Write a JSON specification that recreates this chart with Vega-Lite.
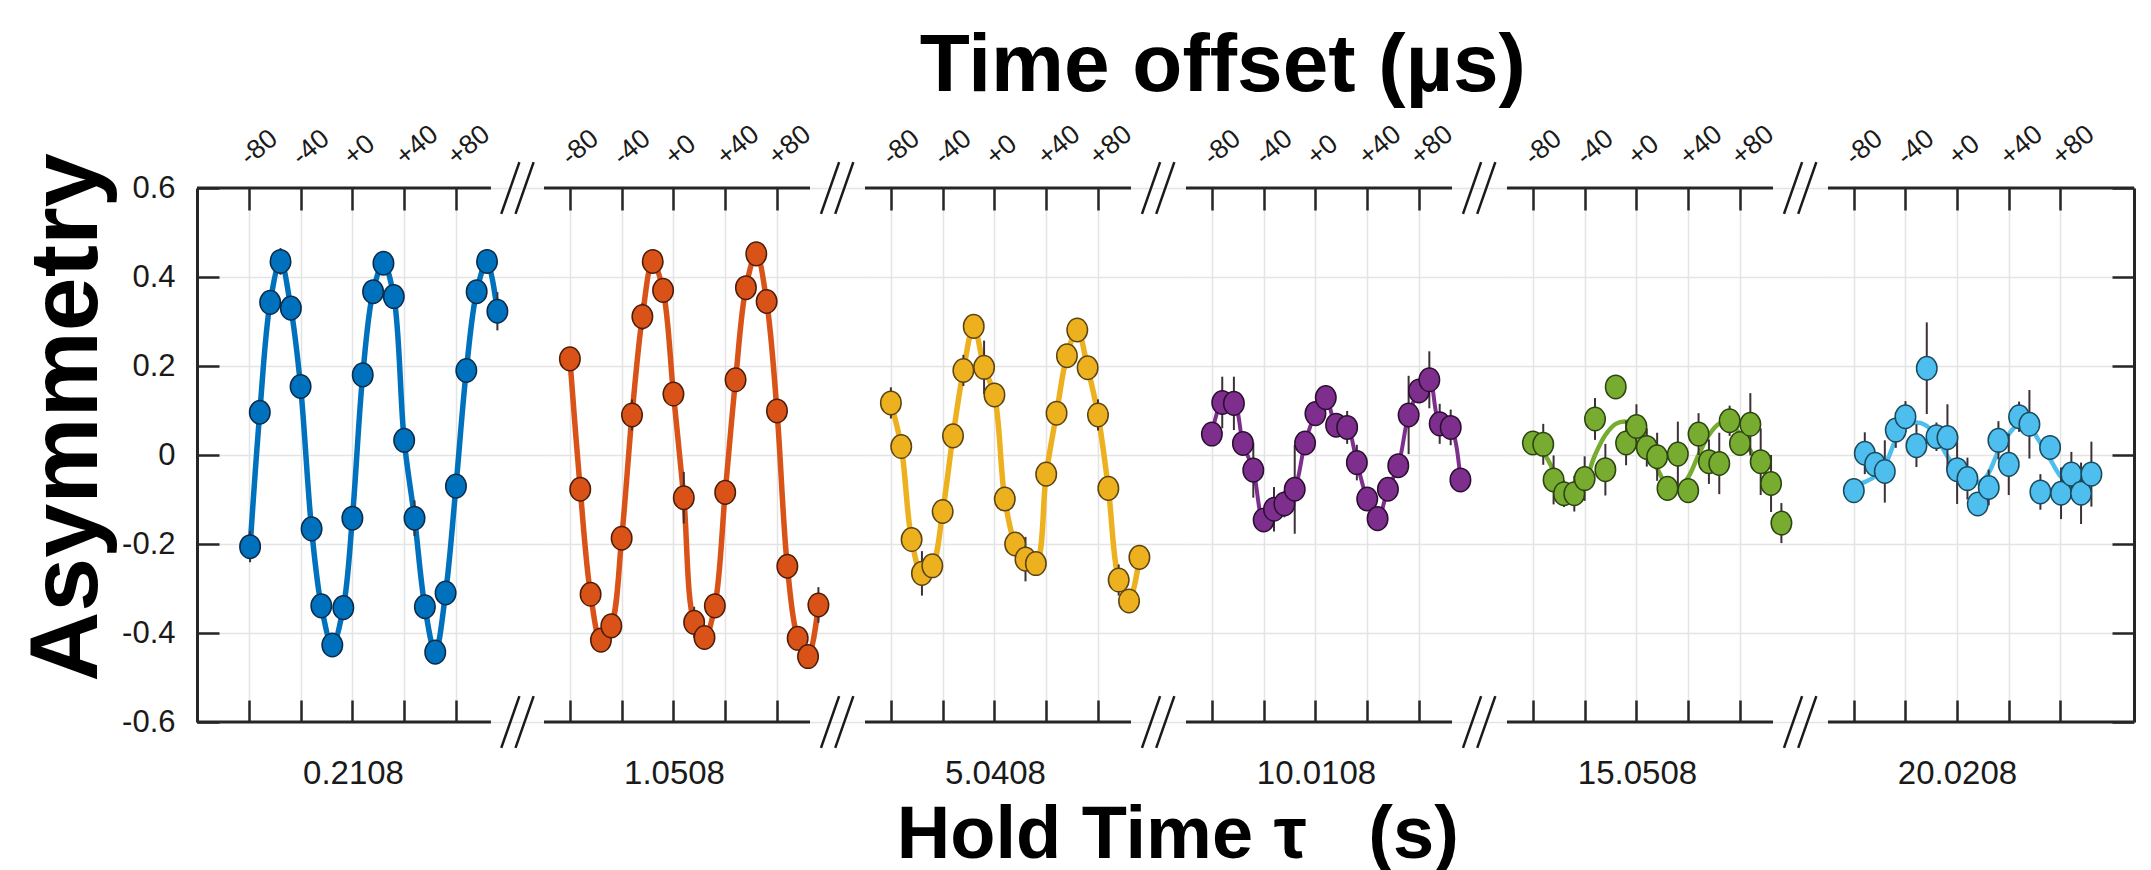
{
"$schema": "https://vega.github.io/schema/vega-lite/v6.json",
"background": "white",
"padding": {"left": 17, "top": 24, "right": 10, "bottom": 5},
"title": {"text": "Time offset (µs)", "font": "Liberation Sans", "fontSize": 82, "fontWeight": "bold", "color": "#000000", "anchor": "middle", "offset": 12, "dx": 146},
"config": {
  "view": {"stroke": null},
  "font": "Liberation Sans",
  "axis": {"gridColor": "#e4e4e4", "gridWidth": 1.5, "tickColor": "#262626", "tickWidth": 2.5, "domainColor": "#262626", "domainWidth": 3, "labelColor": "#1a1a1a", "labelFont": "Liberation Sans", "titleFont": "Liberation Sans", "labelFlush": false, "labelOverlap": false},
  "axisTop": {"labelAngle": -40, "labelAlign": "left", "labelBaseline": "alphabetic", "labelFontSize": 27, "labelPadding": 44, "tickSize": -22, "domain": false, "grid": true},
  "axisBottom": {"labels": false, "tickSize": -22, "domain": false, "grid": false, "titleFontSize": 33, "titleFontWeight": "normal", "titleColor": "#1a1a1a", "titlePadding": 34, "titleAlign": "center"},
  "axisLeft": {"tickSize": -22, "labelFontSize": 31, "labelPadding": 44, "grid": true},
  "axisRight": {"tickSize": -22, "labels": false, "grid": false}
},
"datasets": {
  "pts": [
    {"hold": "0.2108", "t": -79, "a": -0.206, "err": 0.035},
    {"hold": "0.2108", "t": -71.5, "a": 0.096, "err": 0.02},
    {"hold": "0.2108", "t": -63.5, "a": 0.343, "err": 0.02},
    {"hold": "0.2108", "t": -55.5, "a": 0.435, "err": 0.03},
    {"hold": "0.2108", "t": -47.5, "a": 0.330, "err": 0.02},
    {"hold": "0.2108", "t": -40, "a": 0.154, "err": 0.02},
    {"hold": "0.2108", "t": -31.5, "a": -0.166, "err": 0.02},
    {"hold": "0.2108", "t": -24, "a": -0.339, "err": 0.02},
    {"hold": "0.2108", "t": -15.5, "a": -0.427, "err": 0.025},
    {"hold": "0.2108", "t": -7, "a": -0.343, "err": 0.02},
    {"hold": "0.2108", "t": 0, "a": -0.142, "err": 0.02},
    {"hold": "0.2108", "t": 8, "a": 0.180, "err": 0.02},
    {"hold": "0.2108", "t": 16, "a": 0.367, "err": 0.02},
    {"hold": "0.2108", "t": 24, "a": 0.431, "err": 0.02},
    {"hold": "0.2108", "t": 32, "a": 0.356, "err": 0.02},
    {"hold": "0.2108", "t": 40, "a": 0.033, "err": 0.02},
    {"hold": "0.2108", "t": 48, "a": -0.142, "err": 0.04},
    {"hold": "0.2108", "t": 56, "a": -0.341, "err": 0.02},
    {"hold": "0.2108", "t": 64, "a": -0.443, "err": 0.025},
    {"hold": "0.2108", "t": 72, "a": -0.310, "err": 0.02},
    {"hold": "0.2108", "t": 80, "a": -0.070, "err": 0.02},
    {"hold": "0.2108", "t": 88, "a": 0.190, "err": 0.02},
    {"hold": "0.2108", "t": 96, "a": 0.367, "err": 0.02},
    {"hold": "0.2108", "t": 104, "a": 0.435, "err": 0.02},
    {"hold": "0.2108", "t": 112, "a": 0.323, "err": 0.043},

    {"hold": "1.0508", "t": -80, "a": 0.216, "err": 0.02},
    {"hold": "1.0508", "t": -72, "a": -0.077, "err": 0.02},
    {"hold": "1.0508", "t": -64, "a": -0.313, "err": 0.02},
    {"hold": "1.0508", "t": -56, "a": -0.416, "err": 0.02},
    {"hold": "1.0508", "t": -48, "a": -0.384, "err": 0.02},
    {"hold": "1.0508", "t": -40, "a": -0.187, "err": 0.02},
    {"hold": "1.0508", "t": -32, "a": 0.090, "err": 0.035},
    {"hold": "1.0508", "t": -24, "a": 0.311, "err": 0.03},
    {"hold": "1.0508", "t": -16, "a": 0.435, "err": 0.02},
    {"hold": "1.0508", "t": -8, "a": 0.370, "err": 0.02},
    {"hold": "1.0508", "t": 0, "a": 0.137, "err": 0.02},
    {"hold": "1.0508", "t": 8, "a": -0.096, "err": 0.058},
    {"hold": "1.0508", "t": 16, "a": -0.376, "err": 0.035},
    {"hold": "1.0508", "t": 24, "a": -0.410, "err": 0.02},
    {"hold": "1.0508", "t": 32, "a": -0.339, "err": 0.02},
    {"hold": "1.0508", "t": 40, "a": -0.084, "err": 0.02},
    {"hold": "1.0508", "t": 48, "a": 0.169, "err": 0.02},
    {"hold": "1.0508", "t": 56, "a": 0.376, "err": 0.02},
    {"hold": "1.0508", "t": 64, "a": 0.452, "err": 0.02},
    {"hold": "1.0508", "t": 72, "a": 0.345, "err": 0.02},
    {"hold": "1.0508", "t": 80, "a": 0.099, "err": 0.02},
    {"hold": "1.0508", "t": 88, "a": -0.250, "err": 0.02},
    {"hold": "1.0508", "t": 96, "a": -0.412, "err": 0.02},
    {"hold": "1.0508", "t": 104, "a": -0.453, "err": 0.02},
    {"hold": "1.0508", "t": 112, "a": -0.337, "err": 0.04},

    {"hold": "5.0408", "t": -80, "a": 0.117, "err": 0.035},
    {"hold": "5.0408", "t": -72, "a": 0.019, "err": 0.02},
    {"hold": "5.0408", "t": -64, "a": -0.190, "err": 0.02},
    {"hold": "5.0408", "t": -56, "a": -0.266, "err": 0.05},
    {"hold": "5.0408", "t": -48, "a": -0.249, "err": 0.02},
    {"hold": "5.0408", "t": -40, "a": -0.127, "err": 0.02},
    {"hold": "5.0408", "t": -32, "a": 0.043, "err": 0.02},
    {"hold": "5.0408", "t": -24, "a": 0.190, "err": 0.035},
    {"hold": "5.0408", "t": -16, "a": 0.289, "err": 0.02},
    {"hold": "5.0408", "t": -8, "a": 0.197, "err": 0.06},
    {"hold": "5.0408", "t": 0, "a": 0.135, "err": 0.02},
    {"hold": "5.0408", "t": 8, "a": -0.099, "err": 0.02},
    {"hold": "5.0408", "t": 16, "a": -0.200, "err": 0.02},
    {"hold": "5.0408", "t": 24, "a": -0.234, "err": 0.05},
    {"hold": "5.0408", "t": 32, "a": -0.244, "err": 0.02},
    {"hold": "5.0408", "t": 40, "a": -0.043, "err": 0.02},
    {"hold": "5.0408", "t": 48, "a": 0.094, "err": 0.02},
    {"hold": "5.0408", "t": 56, "a": 0.223, "err": 0.02},
    {"hold": "5.0408", "t": 64, "a": 0.281, "err": 0.02},
    {"hold": "5.0408", "t": 72, "a": 0.196, "err": 0.02},
    {"hold": "5.0408", "t": 80, "a": 0.090, "err": 0.035},
    {"hold": "5.0408", "t": 88, "a": -0.075, "err": 0.02},
    {"hold": "5.0408", "t": 96, "a": -0.281, "err": 0.035},
    {"hold": "5.0408", "t": 104, "a": -0.328, "err": 0.02},
    {"hold": "5.0408", "t": 112, "a": -0.230, "err": 0.02},

    {"hold": "10.0108", "t": -80, "a": 0.047, "err": 0.02},
    {"hold": "10.0108", "t": -72, "a": 0.118, "err": 0.058},
    {"hold": "10.0108", "t": -63, "a": 0.116, "err": 0.06},
    {"hold": "10.0108", "t": -56, "a": 0.026, "err": 0.02},
    {"hold": "10.0108", "t": -48, "a": -0.034, "err": 0.062},
    {"hold": "10.0108", "t": -40, "a": -0.146, "err": 0.02},
    {"hold": "10.0108", "t": -32, "a": -0.122, "err": 0.05},
    {"hold": "10.0108", "t": -24, "a": -0.110, "err": 0.03},
    {"hold": "10.0108", "t": -16, "a": -0.077, "err": 0.1},
    {"hold": "10.0108", "t": -8, "a": 0.027, "err": 0.02},
    {"hold": "10.0108", "t": 0, "a": 0.093, "err": 0.02},
    {"hold": "10.0108", "t": 8, "a": 0.129, "err": 0.02},
    {"hold": "10.0108", "t": 16, "a": 0.067, "err": 0.02},
    {"hold": "10.0108", "t": 24.5, "a": 0.062, "err": 0.037},
    {"hold": "10.0108", "t": 32, "a": -0.017, "err": 0.04},
    {"hold": "10.0108", "t": 40, "a": -0.099, "err": 0.02},
    {"hold": "10.0108", "t": 48, "a": -0.143, "err": 0.02},
    {"hold": "10.0108", "t": 56, "a": -0.077, "err": 0.02},
    {"hold": "10.0108", "t": 64, "a": -0.024, "err": 0.02},
    {"hold": "10.0108", "t": 72, "a": 0.090, "err": 0.088},
    {"hold": "10.0108", "t": 80, "a": 0.144, "err": 0.02},
    {"hold": "10.0108", "t": 88, "a": 0.169, "err": 0.064},
    {"hold": "10.0108", "t": 96, "a": 0.070, "err": 0.045},
    {"hold": "10.0108", "t": 104.5, "a": 0.062, "err": 0.04},
    {"hold": "10.0108", "t": 112, "a": -0.056, "err": 0.02},

    {"hold": "15.0508", "t": -80, "a": 0.027, "err": 0.02},
    {"hold": "15.0508", "t": -72, "a": 0.024, "err": 0.046},
    {"hold": "15.0508", "t": -64, "a": -0.056, "err": 0.055},
    {"hold": "15.0508", "t": -56, "a": -0.087, "err": 0.03},
    {"hold": "15.0508", "t": -48, "a": -0.087, "err": 0.04},
    {"hold": "15.0508", "t": -40, "a": -0.053, "err": 0.05},
    {"hold": "15.0508", "t": -32, "a": 0.081, "err": 0.047},
    {"hold": "15.0508", "t": -24, "a": -0.033, "err": 0.058},
    {"hold": "15.0508", "t": -16, "a": 0.153, "err": 0.02},
    {"hold": "15.0508", "t": -8, "a": 0.027, "err": 0.05},
    {"hold": "15.0508", "t": 0, "a": 0.064, "err": 0.05},
    {"hold": "15.0508", "t": 8, "a": 0.017, "err": 0.043},
    {"hold": "15.0508", "t": 16, "a": -0.004, "err": 0.054},
    {"hold": "15.0508", "t": 24, "a": -0.075, "err": 0.02},
    {"hold": "15.0508", "t": 32, "a": 0.002, "err": 0.073},
    {"hold": "15.0508", "t": 40, "a": -0.080, "err": 0.02},
    {"hold": "15.0508", "t": 48, "a": 0.047, "err": 0.047},
    {"hold": "15.0508", "t": 56, "a": -0.015, "err": 0.05},
    {"hold": "15.0508", "t": 64, "a": -0.019, "err": 0.069},
    {"hold": "15.0508", "t": 72, "a": 0.077, "err": 0.034},
    {"hold": "15.0508", "t": 80, "a": 0.026, "err": 0.02},
    {"hold": "15.0508", "t": 88, "a": 0.069, "err": 0.07},
    {"hold": "15.0508", "t": 96, "a": -0.015, "err": 0.075},
    {"hold": "15.0508", "t": 104, "a": -0.064, "err": 0.064},
    {"hold": "15.0508", "t": 112, "a": -0.153, "err": 0.045},

    {"hold": "20.0208", "t": -80, "a": -0.080, "err": 0.02},
    {"hold": "20.0208", "t": -71.5, "a": 0.004, "err": 0.047},
    {"hold": "20.0208", "t": -63.5, "a": -0.021, "err": 0.02},
    {"hold": "20.0208", "t": -56, "a": -0.037, "err": 0.07},
    {"hold": "20.0208", "t": -47.5, "a": 0.056, "err": 0.04},
    {"hold": "20.0208", "t": -40, "a": 0.086, "err": 0.035},
    {"hold": "20.0208", "t": -31.5, "a": 0.021, "err": 0.048},
    {"hold": "20.0208", "t": -23.5, "a": 0.195, "err": 0.103},
    {"hold": "20.0208", "t": -16, "a": 0.041, "err": 0.032},
    {"hold": "20.0208", "t": -7.5, "a": 0.039, "err": 0.075},
    {"hold": "20.0208", "t": 0, "a": -0.033, "err": 0.077},
    {"hold": "20.0208", "t": 8, "a": -0.053, "err": 0.047},
    {"hold": "20.0208", "t": 16, "a": -0.110, "err": 0.02},
    {"hold": "20.0208", "t": 24.5, "a": -0.073, "err": 0.04},
    {"hold": "20.0208", "t": 32, "a": 0.033, "err": 0.043},
    {"hold": "20.0208", "t": 40, "a": -0.021, "err": 0.069},
    {"hold": "20.0208", "t": 48, "a": 0.086, "err": 0.034},
    {"hold": "20.0208", "t": 56, "a": 0.069, "err": 0.077},
    {"hold": "20.0208", "t": 64.5, "a": -0.083, "err": 0.04},
    {"hold": "20.0208", "t": 72, "a": 0.017, "err": 0.02},
    {"hold": "20.0208", "t": 80.5, "a": -0.086, "err": 0.058},
    {"hold": "20.0208", "t": 88.5, "a": -0.043, "err": 0.05},
    {"hold": "20.0208", "t": 96, "a": -0.086, "err": 0.069},
    {"hold": "20.0208", "t": 104, "a": -0.043, "err": 0.073}
  ],
  "fit": [
    {"hold": "15.0508", "t": -80, "a": 0.02},
    {"hold": "15.0508", "t": -72, "a": 0.005},
    {"hold": "15.0508", "t": -64, "a": -0.035},
    {"hold": "15.0508", "t": -56, "a": -0.075},
    {"hold": "15.0508", "t": -48, "a": -0.082},
    {"hold": "15.0508", "t": -40, "a": -0.06},
    {"hold": "15.0508", "t": -32, "a": 0.0},
    {"hold": "15.0508", "t": -24, "a": 0.045},
    {"hold": "15.0508", "t": -16, "a": 0.07},
    {"hold": "15.0508", "t": -8, "a": 0.075},
    {"hold": "15.0508", "t": 0, "a": 0.068},
    {"hold": "15.0508", "t": 8, "a": 0.035},
    {"hold": "15.0508", "t": 16, "a": -0.03},
    {"hold": "15.0508", "t": 24, "a": -0.068},
    {"hold": "15.0508", "t": 32, "a": -0.075},
    {"hold": "15.0508", "t": 40, "a": -0.05},
    {"hold": "15.0508", "t": 48, "a": 0.0},
    {"hold": "15.0508", "t": 56, "a": 0.045},
    {"hold": "15.0508", "t": 64, "a": 0.07},
    {"hold": "15.0508", "t": 72, "a": 0.073},
    {"hold": "15.0508", "t": 80, "a": 0.047},
    {"hold": "15.0508", "t": 88, "a": 0.01},
    {"hold": "15.0508", "t": 96, "a": -0.028},
    {"hold": "15.0508", "t": 104, "a": -0.056},
    {"hold": "15.0508", "t": 110, "a": -0.068},

    {"hold": "20.0208", "t": -80, "a": -0.069},
    {"hold": "20.0208", "t": -71, "a": -0.06},
    {"hold": "20.0208", "t": -63, "a": -0.047},
    {"hold": "20.0208", "t": -55, "a": -0.017},
    {"hold": "20.0208", "t": -47.5, "a": 0.034},
    {"hold": "20.0208", "t": -40, "a": 0.062},
    {"hold": "20.0208", "t": -32, "a": 0.073},
    {"hold": "20.0208", "t": -24.5, "a": 0.067},
    {"hold": "20.0208", "t": -16.5, "a": 0.043},
    {"hold": "20.0208", "t": -9, "a": 0.004},
    {"hold": "20.0208", "t": 0, "a": -0.034},
    {"hold": "20.0208", "t": 7.5, "a": -0.056},
    {"hold": "20.0208", "t": 15.5, "a": -0.062},
    {"hold": "20.0208", "t": 23, "a": -0.047},
    {"hold": "20.0208", "t": 32, "a": 0.009},
    {"hold": "20.0208", "t": 40, "a": 0.047},
    {"hold": "20.0208", "t": 47.5, "a": 0.069},
    {"hold": "20.0208", "t": 55, "a": 0.067},
    {"hold": "20.0208", "t": 63, "a": 0.034},
    {"hold": "20.0208", "t": 72, "a": -0.009},
    {"hold": "20.0208", "t": 80, "a": -0.047},
    {"hold": "20.0208", "t": 88, "a": -0.063},
    {"hold": "20.0208", "t": 96, "a": -0.062}
  ]
},
"vconcat": [{
  "title": {"text": "Hold Time\u00a0τ\u00a0\u00a0 (s)", "orient": "bottom", "anchor": "middle", "font": "Liberation Sans", "fontSize": 74, "fontWeight": "bold", "color": "#000000", "offset": 10, "dx": 101},
  "bounds": "flush",
  "spacing": 0,
  "hconcat": [
    {
      "width": 347, "height": 534,
      "resolve": {"axis": {"x": "independent", "y": "independent"}},
      "layer": [
        {"data": {"name": "pts"}, "transform": [{"filter": {"field": "hold", "equal": "0.2108"}}],
         "mark": {"type": "line", "color": "#0072BD", "strokeWidth": 5.5, "interpolate": "catmull-rom"},
         "encoding": {
           "x": {"field": "t", "type": "quantitative", "scale": {"domain": [-120, 148], "nice": false, "zero": false},
                 "axis": {"orient": "top", "values": [-80, -40, 0, 40, 80], "labelExpr": "datum.value > 0 ? '+' + datum.value : (datum.value == 0 ? '+0' : '-' + abs(datum.value))", "title": null}},
           "y": {"field": "a", "type": "quantitative", "scale": {"domain": [-0.6, 0.6], "nice": false, "zero": false},
                 "axis": {"orient": "left", "values": [-0.6, -0.4, -0.2, 0, 0.2, 0.4, 0.6], "labelExpr": "datum.value == 0 ? '0' : (datum.value < 0 ? '-' + format(abs(datum.value), '.1f') : format(datum.value, '.1f'))", "domain": true, "title": "Asymmetry", "titleFontSize": 97, "titleFontWeight": "bold", "titleColor": "#000000", "titleAngle": -90, "titleX": -101, "titleY": 229, "titleBaseline": "alphabetic", "titleAlign": "center"}}
         }},
        {"data": {"name": "pts"}, "transform": [{"filter": {"field": "hold", "equal": "0.2108"}}],
         "mark": {"type": "errorbar", "color": "#3d3038", "thickness": 2},
         "encoding": {"x": {"field": "t", "type": "quantitative", "axis": null}, "y": {"field": "a", "type": "quantitative", "axis": null}, "yError": {"field": "err"}}},
        {"data": {"name": "pts"}, "transform": [{"filter": {"field": "hold", "equal": "0.2108"}}],
         "mark": {"type": "point", "shape": "M-1,0A1,1.15,0,1,1,1,0A1,1.15,0,1,1,-1,0Z", "filled": true, "color": "#0072BD", "stroke": "#0b2b4a", "strokeWidth": 1.5, "size": 420, "opacity": 1},
         "encoding": {"x": {"field": "t", "type": "quantitative", "axis": null}, "y": {"field": "a", "type": "quantitative", "axis": null}}},
        {"data": {"values": [{}]}, "mark": {"type": "rule", "color": "#262626", "strokeWidth": 3},
         "encoding": {"x": {"datum": -120, "type": "quantitative", "axis": null}, "x2": {"datum": 107}, "y": {"datum": 0.6, "type": "quantitative", "axis": null}}},
        {"data": {"values": [{}]}, "mark": {"type": "rule", "color": "#262626", "strokeWidth": 3},
         "encoding": {"x": {"datum": -120, "type": "quantitative", "axis": {"orient": "bottom", "values": [-80, -40, 0, 40, 80], "title": "0.2108", "titleX": 156}}, "x2": {"datum": 107}, "y": {"datum": -0.6, "type": "quantitative", "axis": null}}},
        {"data": {"values": [{}]}, "mark": {"type": "rule", "color": "#1a1a1a", "strokeWidth": 2.5},
         "encoding": {"x": {"datum": 115, "type": "quantitative", "axis": null}, "x2": {"datum": 129}, "y": {"datum": 0.542, "type": "quantitative", "axis": null}, "y2": {"datum": 0.658}}},
        {"data": {"values": [{}]}, "mark": {"type": "rule", "color": "#1a1a1a", "strokeWidth": 2.5},
         "encoding": {"x": {"datum": 126, "type": "quantitative", "axis": null}, "x2": {"datum": 140}, "y": {"datum": 0.542, "type": "quantitative", "axis": null}, "y2": {"datum": 0.658}}},
        {"data": {"values": [{}]}, "mark": {"type": "rule", "color": "#1a1a1a", "strokeWidth": 2.5},
         "encoding": {"x": {"datum": 115, "type": "quantitative", "axis": null}, "x2": {"datum": 129}, "y": {"datum": -0.658, "type": "quantitative", "axis": null}, "y2": {"datum": -0.542}}},
        {"data": {"values": [{}]}, "mark": {"type": "rule", "color": "#1a1a1a", "strokeWidth": 2.5},
         "encoding": {"x": {"datum": 126, "type": "quantitative", "axis": null}, "x2": {"datum": 140}, "y": {"datum": -0.658, "type": "quantitative", "axis": null}, "y2": {"datum": -0.542}}}
      ]
    },
    {
      "width": 321, "height": 534,
      "resolve": {"axis": {"x": "independent", "y": "independent"}},
      "layer": [
        {"data": {"name": "pts"}, "transform": [{"filter": {"field": "hold", "equal": "1.0508"}}],
         "mark": {"type": "line", "color": "#D95319", "strokeWidth": 5.5, "interpolate": "catmull-rom"},
         "encoding": {
           "x": {"field": "t", "type": "quantitative", "scale": {"domain": [-100, 148], "nice": false, "zero": false},
                 "axis": {"orient": "top", "values": [-80, -40, 0, 40, 80], "labelExpr": "datum.value > 0 ? '+' + datum.value : (datum.value == 0 ? '+0' : '-' + abs(datum.value))", "title": null}},
           "y": {"field": "a", "type": "quantitative", "scale": {"domain": [-0.6, 0.6], "nice": false, "zero": false},
                 "axis": {"orient": "left", "values": [-0.6, -0.4, -0.2, 0, 0.2, 0.4, 0.6], "labels": false, "ticks": false, "domain": false, "title": null}}
         }},
        {"data": {"name": "pts"}, "transform": [{"filter": {"field": "hold", "equal": "1.0508"}}],
         "mark": {"type": "errorbar", "color": "#3d3038", "thickness": 2},
         "encoding": {"x": {"field": "t", "type": "quantitative", "axis": null}, "y": {"field": "a", "type": "quantitative", "axis": null}, "yError": {"field": "err"}}},
        {"data": {"name": "pts"}, "transform": [{"filter": {"field": "hold", "equal": "1.0508"}}],
         "mark": {"type": "point", "shape": "M-1,0A1,1.15,0,1,1,1,0A1,1.15,0,1,1,-1,0Z", "filled": true, "color": "#D95319", "stroke": "#4d1d08", "strokeWidth": 1.5, "size": 420, "opacity": 1},
         "encoding": {"x": {"field": "t", "type": "quantitative", "axis": null}, "y": {"field": "a", "type": "quantitative", "axis": null}}},
        {"data": {"values": [{}]}, "mark": {"type": "rule", "color": "#262626", "strokeWidth": 3},
         "encoding": {"x": {"datum": -100, "type": "quantitative", "axis": null}, "x2": {"datum": 105.5}, "y": {"datum": 0.6, "type": "quantitative", "axis": null}}},
        {"data": {"values": [{}]}, "mark": {"type": "rule", "color": "#262626", "strokeWidth": 3},
         "encoding": {"x": {"datum": -100, "type": "quantitative", "axis": {"orient": "bottom", "values": [-80, -40, 0, 40, 80], "title": "1.0508", "titleX": 130}}, "x2": {"datum": 105.5}, "y": {"datum": -0.6, "type": "quantitative", "axis": null}}},
        {"data": {"values": [{}]}, "mark": {"type": "rule", "color": "#1a1a1a", "strokeWidth": 2.5},
         "encoding": {"x": {"datum": 114, "type": "quantitative", "axis": null}, "x2": {"datum": 128}, "y": {"datum": 0.542, "type": "quantitative", "axis": null}, "y2": {"datum": 0.658}}},
        {"data": {"values": [{}]}, "mark": {"type": "rule", "color": "#1a1a1a", "strokeWidth": 2.5},
         "encoding": {"x": {"datum": 125, "type": "quantitative", "axis": null}, "x2": {"datum": 139}, "y": {"datum": 0.542, "type": "quantitative", "axis": null}, "y2": {"datum": 0.658}}},
        {"data": {"values": [{}]}, "mark": {"type": "rule", "color": "#1a1a1a", "strokeWidth": 2.5},
         "encoding": {"x": {"datum": 114, "type": "quantitative", "axis": null}, "x2": {"datum": 128}, "y": {"datum": -0.658, "type": "quantitative", "axis": null}, "y2": {"datum": -0.542}}},
        {"data": {"values": [{}]}, "mark": {"type": "rule", "color": "#1a1a1a", "strokeWidth": 2.5},
         "encoding": {"x": {"datum": 125, "type": "quantitative", "axis": null}, "x2": {"datum": 139}, "y": {"datum": -0.658, "type": "quantitative", "axis": null}, "y2": {"datum": -0.542}}}
      ]
    },
    {
      "width": 321, "height": 534,
      "resolve": {"axis": {"x": "independent", "y": "independent"}},
      "layer": [
        {"data": {"name": "pts"}, "transform": [{"filter": {"field": "hold", "equal": "5.0408"}}],
         "mark": {"type": "line", "color": "#EDB120", "strokeWidth": 5.5, "interpolate": "catmull-rom"},
         "encoding": {
           "x": {"field": "t", "type": "quantitative", "scale": {"domain": [-100, 148], "nice": false, "zero": false},
                 "axis": {"orient": "top", "values": [-80, -40, 0, 40, 80], "labelExpr": "datum.value > 0 ? '+' + datum.value : (datum.value == 0 ? '+0' : '-' + abs(datum.value))", "title": null}},
           "y": {"field": "a", "type": "quantitative", "scale": {"domain": [-0.6, 0.6], "nice": false, "zero": false},
                 "axis": {"orient": "left", "values": [-0.6, -0.4, -0.2, 0, 0.2, 0.4, 0.6], "labels": false, "ticks": false, "domain": false, "title": null}}
         }},
        {"data": {"name": "pts"}, "transform": [{"filter": {"field": "hold", "equal": "5.0408"}}],
         "mark": {"type": "errorbar", "color": "#3d3038", "thickness": 2},
         "encoding": {"x": {"field": "t", "type": "quantitative", "axis": null}, "y": {"field": "a", "type": "quantitative", "axis": null}, "yError": {"field": "err"}}},
        {"data": {"name": "pts"}, "transform": [{"filter": {"field": "hold", "equal": "5.0408"}}],
         "mark": {"type": "point", "shape": "M-1,0A1,1.15,0,1,1,1,0A1,1.15,0,1,1,-1,0Z", "filled": true, "color": "#EDB120", "stroke": "#5a4410", "strokeWidth": 1.5, "size": 420, "opacity": 1},
         "encoding": {"x": {"field": "t", "type": "quantitative", "axis": null}, "y": {"field": "a", "type": "quantitative", "axis": null}}},
        {"data": {"values": [{}]}, "mark": {"type": "rule", "color": "#262626", "strokeWidth": 3},
         "encoding": {"x": {"datum": -100, "type": "quantitative", "axis": null}, "x2": {"datum": 105.5}, "y": {"datum": 0.6, "type": "quantitative", "axis": null}}},
        {"data": {"values": [{}]}, "mark": {"type": "rule", "color": "#262626", "strokeWidth": 3},
         "encoding": {"x": {"datum": -100, "type": "quantitative", "axis": {"orient": "bottom", "values": [-80, -40, 0, 40, 80], "title": "5.0408", "titleX": 130}}, "x2": {"datum": 105.5}, "y": {"datum": -0.6, "type": "quantitative", "axis": null}}},
        {"data": {"values": [{}]}, "mark": {"type": "rule", "color": "#1a1a1a", "strokeWidth": 2.5},
         "encoding": {"x": {"datum": 114, "type": "quantitative", "axis": null}, "x2": {"datum": 128}, "y": {"datum": 0.542, "type": "quantitative", "axis": null}, "y2": {"datum": 0.658}}},
        {"data": {"values": [{}]}, "mark": {"type": "rule", "color": "#1a1a1a", "strokeWidth": 2.5},
         "encoding": {"x": {"datum": 125, "type": "quantitative", "axis": null}, "x2": {"datum": 139}, "y": {"datum": 0.542, "type": "quantitative", "axis": null}, "y2": {"datum": 0.658}}},
        {"data": {"values": [{}]}, "mark": {"type": "rule", "color": "#1a1a1a", "strokeWidth": 2.5},
         "encoding": {"x": {"datum": 114, "type": "quantitative", "axis": null}, "x2": {"datum": 128}, "y": {"datum": -0.658, "type": "quantitative", "axis": null}, "y2": {"datum": -0.542}}},
        {"data": {"values": [{}]}, "mark": {"type": "rule", "color": "#1a1a1a", "strokeWidth": 2.5},
         "encoding": {"x": {"datum": 125, "type": "quantitative", "axis": null}, "x2": {"datum": 139}, "y": {"datum": -0.658, "type": "quantitative", "axis": null}, "y2": {"datum": -0.542}}}
      ]
    },
    {
      "width": 321, "height": 534,
      "resolve": {"axis": {"x": "independent", "y": "independent"}},
      "layer": [
        {"data": {"name": "pts"}, "transform": [{"filter": {"field": "hold", "equal": "10.0108"}}],
         "mark": {"type": "line", "color": "#7E2F8E", "strokeWidth": 4, "interpolate": "catmull-rom"},
         "encoding": {
           "x": {"field": "t", "type": "quantitative", "scale": {"domain": [-100, 148], "nice": false, "zero": false},
                 "axis": {"orient": "top", "values": [-80, -40, 0, 40, 80], "labelExpr": "datum.value > 0 ? '+' + datum.value : (datum.value == 0 ? '+0' : '-' + abs(datum.value))", "title": null}},
           "y": {"field": "a", "type": "quantitative", "scale": {"domain": [-0.6, 0.6], "nice": false, "zero": false},
                 "axis": {"orient": "left", "values": [-0.6, -0.4, -0.2, 0, 0.2, 0.4, 0.6], "labels": false, "ticks": false, "domain": false, "title": null}}
         }},
        {"data": {"name": "pts"}, "transform": [{"filter": {"field": "hold", "equal": "10.0108"}}],
         "mark": {"type": "errorbar", "color": "#3d3038", "thickness": 2},
         "encoding": {"x": {"field": "t", "type": "quantitative", "axis": null}, "y": {"field": "a", "type": "quantitative", "axis": null}, "yError": {"field": "err"}}},
        {"data": {"name": "pts"}, "transform": [{"filter": {"field": "hold", "equal": "10.0108"}}],
         "mark": {"type": "point", "shape": "M-1,0A1,1.15,0,1,1,1,0A1,1.15,0,1,1,-1,0Z", "filled": true, "color": "#7E2F8E", "stroke": "#2b0f30", "strokeWidth": 1.5, "size": 420, "opacity": 1},
         "encoding": {"x": {"field": "t", "type": "quantitative", "axis": null}, "y": {"field": "a", "type": "quantitative", "axis": null}}},
        {"data": {"values": [{}]}, "mark": {"type": "rule", "color": "#262626", "strokeWidth": 3},
         "encoding": {"x": {"datum": -100, "type": "quantitative", "axis": null}, "x2": {"datum": 105.5}, "y": {"datum": 0.6, "type": "quantitative", "axis": null}}},
        {"data": {"values": [{}]}, "mark": {"type": "rule", "color": "#262626", "strokeWidth": 3},
         "encoding": {"x": {"datum": -100, "type": "quantitative", "axis": {"orient": "bottom", "values": [-80, -40, 0, 40, 80], "title": "10.0108", "titleX": 130}}, "x2": {"datum": 105.5}, "y": {"datum": -0.6, "type": "quantitative", "axis": null}}},
        {"data": {"values": [{}]}, "mark": {"type": "rule", "color": "#1a1a1a", "strokeWidth": 2.5},
         "encoding": {"x": {"datum": 114, "type": "quantitative", "axis": null}, "x2": {"datum": 128}, "y": {"datum": 0.542, "type": "quantitative", "axis": null}, "y2": {"datum": 0.658}}},
        {"data": {"values": [{}]}, "mark": {"type": "rule", "color": "#1a1a1a", "strokeWidth": 2.5},
         "encoding": {"x": {"datum": 125, "type": "quantitative", "axis": null}, "x2": {"datum": 139}, "y": {"datum": 0.542, "type": "quantitative", "axis": null}, "y2": {"datum": 0.658}}},
        {"data": {"values": [{}]}, "mark": {"type": "rule", "color": "#1a1a1a", "strokeWidth": 2.5},
         "encoding": {"x": {"datum": 114, "type": "quantitative", "axis": null}, "x2": {"datum": 128}, "y": {"datum": -0.658, "type": "quantitative", "axis": null}, "y2": {"datum": -0.542}}},
        {"data": {"values": [{}]}, "mark": {"type": "rule", "color": "#1a1a1a", "strokeWidth": 2.5},
         "encoding": {"x": {"datum": 125, "type": "quantitative", "axis": null}, "x2": {"datum": 139}, "y": {"datum": -0.658, "type": "quantitative", "axis": null}, "y2": {"datum": -0.542}}}
      ]
    },
    {
      "width": 321, "height": 534,
      "resolve": {"axis": {"x": "independent", "y": "independent"}},
      "layer": [
        {"data": {"name": "fit"}, "transform": [{"filter": {"field": "hold", "equal": "15.0508"}}],
         "mark": {"type": "line", "color": "#77AC30", "strokeWidth": 4.5, "interpolate": "catmull-rom"},
         "encoding": {
           "x": {"field": "t", "type": "quantitative", "scale": {"domain": [-100, 148], "nice": false, "zero": false},
                 "axis": {"orient": "top", "values": [-80, -40, 0, 40, 80], "labelExpr": "datum.value > 0 ? '+' + datum.value : (datum.value == 0 ? '+0' : '-' + abs(datum.value))", "title": null}},
           "y": {"field": "a", "type": "quantitative", "scale": {"domain": [-0.6, 0.6], "nice": false, "zero": false},
                 "axis": {"orient": "left", "values": [-0.6, -0.4, -0.2, 0, 0.2, 0.4, 0.6], "labels": false, "ticks": false, "domain": false, "title": null}}
         }},
        {"data": {"name": "pts"}, "transform": [{"filter": {"field": "hold", "equal": "15.0508"}}],
         "mark": {"type": "errorbar", "color": "#3d3038", "thickness": 2},
         "encoding": {"x": {"field": "t", "type": "quantitative", "axis": null}, "y": {"field": "a", "type": "quantitative", "axis": null}, "yError": {"field": "err"}}},
        {"data": {"name": "pts"}, "transform": [{"filter": {"field": "hold", "equal": "15.0508"}}],
         "mark": {"type": "point", "shape": "M-1,0A1,1.15,0,1,1,1,0A1,1.15,0,1,1,-1,0Z", "filled": true, "color": "#77AC30", "stroke": "#2c4510", "strokeWidth": 1.5, "size": 420, "opacity": 1},
         "encoding": {"x": {"field": "t", "type": "quantitative", "axis": null}, "y": {"field": "a", "type": "quantitative", "axis": null}}},
        {"data": {"values": [{}]}, "mark": {"type": "rule", "color": "#262626", "strokeWidth": 3},
         "encoding": {"x": {"datum": -100, "type": "quantitative", "axis": null}, "x2": {"datum": 105.5}, "y": {"datum": 0.6, "type": "quantitative", "axis": null}}},
        {"data": {"values": [{}]}, "mark": {"type": "rule", "color": "#262626", "strokeWidth": 3},
         "encoding": {"x": {"datum": -100, "type": "quantitative", "axis": {"orient": "bottom", "values": [-80, -40, 0, 40, 80], "title": "15.0508", "titleX": 130}}, "x2": {"datum": 105.5}, "y": {"datum": -0.6, "type": "quantitative", "axis": null}}},
        {"data": {"values": [{}]}, "mark": {"type": "rule", "color": "#1a1a1a", "strokeWidth": 2.5},
         "encoding": {"x": {"datum": 114, "type": "quantitative", "axis": null}, "x2": {"datum": 128}, "y": {"datum": 0.542, "type": "quantitative", "axis": null}, "y2": {"datum": 0.658}}},
        {"data": {"values": [{}]}, "mark": {"type": "rule", "color": "#1a1a1a", "strokeWidth": 2.5},
         "encoding": {"x": {"datum": 125, "type": "quantitative", "axis": null}, "x2": {"datum": 139}, "y": {"datum": 0.542, "type": "quantitative", "axis": null}, "y2": {"datum": 0.658}}},
        {"data": {"values": [{}]}, "mark": {"type": "rule", "color": "#1a1a1a", "strokeWidth": 2.5},
         "encoding": {"x": {"datum": 114, "type": "quantitative", "axis": null}, "x2": {"datum": 128}, "y": {"datum": -0.658, "type": "quantitative", "axis": null}, "y2": {"datum": -0.542}}},
        {"data": {"values": [{}]}, "mark": {"type": "rule", "color": "#1a1a1a", "strokeWidth": 2.5},
         "encoding": {"x": {"datum": 125, "type": "quantitative", "axis": null}, "x2": {"datum": 139}, "y": {"datum": -0.658, "type": "quantitative", "axis": null}, "y2": {"datum": -0.542}}}
      ]
    },
    {
      "width": 306, "height": 534,
      "resolve": {"axis": {"x": "independent", "y": "independent"}},
      "layer": [
        {"data": {"name": "fit"}, "transform": [{"filter": {"field": "hold", "equal": "20.0208"}}],
         "mark": {"type": "line", "color": "#4DBEEE", "strokeWidth": 4.5, "interpolate": "catmull-rom"},
         "encoding": {
           "x": {"field": "t", "type": "quantitative", "scale": {"domain": [-100, 137], "nice": false, "zero": false},
                 "axis": {"orient": "top", "values": [-80, -40, 0, 40, 80], "labelExpr": "datum.value > 0 ? '+' + datum.value : (datum.value == 0 ? '+0' : '-' + abs(datum.value))", "title": null}},
           "y": {"field": "a", "type": "quantitative", "scale": {"domain": [-0.6, 0.6], "nice": false, "zero": false},
                 "axis": {"orient": "left", "values": [-0.6, -0.4, -0.2, 0, 0.2, 0.4, 0.6], "labels": false, "ticks": false, "domain": false, "title": null}}
         }},
        {"data": {"name": "pts"}, "transform": [{"filter": {"field": "hold", "equal": "20.0208"}}],
         "mark": {"type": "errorbar", "color": "#3d3038", "thickness": 2},
         "encoding": {"x": {"field": "t", "type": "quantitative", "axis": null}, "y": {"field": "a", "type": "quantitative", "axis": null}, "yError": {"field": "err"}}},
        {"data": {"name": "pts"}, "transform": [{"filter": {"field": "hold", "equal": "20.0208"}}],
         "mark": {"type": "point", "shape": "M-1,0A1,1.15,0,1,1,1,0A1,1.15,0,1,1,-1,0Z", "filled": true, "color": "#4DBEEE", "stroke": "#1b4a5e", "strokeWidth": 1.5, "size": 420, "opacity": 1},
         "encoding": {"x": {"field": "t", "type": "quantitative", "axis": null}, "y": {"field": "a", "type": "quantitative", "axis": null}}},
        {"data": {"values": [{}]}, "mark": {"type": "rule", "color": "#262626", "strokeWidth": 3},
         "encoding": {"x": {"datum": -100, "type": "quantitative", "axis": null}, "x2": {"datum": 137}, "y": {"datum": 0.6, "type": "quantitative", "axis": {"orient": "right", "values": [-0.6, -0.4, -0.2, 0, 0.2, 0.4, 0.6], "domain": true, "title": null}}}},
        {"data": {"values": [{}]}, "mark": {"type": "rule", "color": "#262626", "strokeWidth": 3},
         "encoding": {"x": {"datum": -100, "type": "quantitative", "axis": {"orient": "bottom", "values": [-80, -40, 0, 40, 80], "title": "20.0208", "titleX": 129}}, "x2": {"datum": 137}, "y": {"datum": -0.6, "type": "quantitative", "axis": null}}}
      ]
    }
  ]
}]
}
